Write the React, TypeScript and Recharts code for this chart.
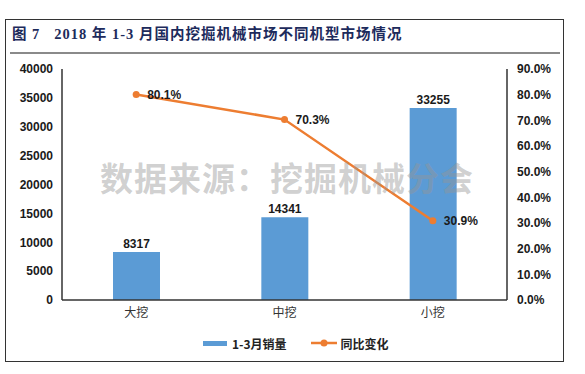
import {
  ComposedChart,
  Bar,
  Line,
  XAxis,
  YAxis,
  LabelList,
} from 'recharts'

// 1-3月 domestic excavator sales by machine type
const categories = ['大挖', '中挖', '小挖']
const sales = [8317, 14341, 33255]
const yoyChange = [80.1, 70.3, 30.9]

const leftTicks = [0, 5000, 10000, 15000, 20000, 25000, 30000, 35000, 40000]
const rightTicks = [0, 10, 20, 30, 40, 50, 60, 70, 80, 90]

const salesName = '1-3月销量'
const changeName = '同比变化'

const chartData = categories.map((name, i) => ({
  name,
  sales: sales[i],
  change: yoyChange[i],
}))

const BLUE = '#5b9bd5'
const ORANGE = '#ed7d31'
const tickFont = { fontSize: 12, fontWeight: 700, fill: '#1a1a1a', fontFamily: '"Liberation Sans", Arial, sans-serif' }

export default function App() {
  return (
    <div style={{ position: 'absolute', left: 0, top: 0, width: 585, height: 374, background: '#fff', overflow: 'hidden' }}>
      {/* frame */}
      <div
        style={{
          position: 'absolute',
          left: 5,
          top: 19,
          width: 557,
          height: 341,
          border: '1.5px solid #333',
        }}
      />
      <div
        style={{
          position: 'absolute',
          left: 12,
          top: 22,
          fontFamily: '"Liberation Serif", "Noto Sans CJK SC", serif',
          fontWeight: 700,
          fontSize: 14.5,
          color: '#1d2b5c',
          letterSpacing: 1,
          whiteSpace: 'pre',
        }}
      >
        {'图 7   2018 年 1-3 月国内挖掘机械市场不同机型市场情况'}
      </div>
      <div style={{ position: 'absolute', left: 10, top: 52, width: 550, height: 2, background: '#8a8a8a' }} />

      <div style={{ position: 'absolute', left: 0, top: 0 }}>
        <ComposedChart
          width={585}
          height={374}
          data={chartData}
          margin={{ top: 69, right: 18, left: 2, bottom: 44 }}
        >
          <XAxis
            dataKey="name"
            axisLine={{ stroke: '#333', strokeWidth: 1.5 }}
            tickLine={false}
            height={30}
            tick={{ fontSize: 12, fill: '#333', fontFamily: '"Noto Sans CJK SC", sans-serif' }}
          />
          <XAxis
            xAxisId="top"
            dataKey="name"
            orientation="top"
            height={0}
            tick={false}
            tickLine={false}
            axisLine={{ stroke: '#333', strokeWidth: 1.5 }}
          />
          <YAxis
            yAxisId="left"
            width={60}
            domain={[0, 40000]}
            ticks={leftTicks}
            interval={0}
            tickLine={false}
            tickMargin={3}
            axisLine={{ stroke: '#333', strokeWidth: 1.5 }}
            tick={tickFont}
          />
          <YAxis
            yAxisId="right"
            orientation="right"
            width={60}
            domain={[0, 90]}
            ticks={rightTicks}
            interval={0}
            tickLine={false}
            tickMargin={4}
            axisLine={{ stroke: '#333', strokeWidth: 1.5 }}
            tick={tickFont}
            tickFormatter={(v: number) => `${v.toFixed(1)}%`}
          />
          <Bar yAxisId="left" dataKey="sales" name={salesName} fill={BLUE} barSize={47} isAnimationActive={false}>
            <LabelList dataKey="sales" position="top" offset={4} style={tickFont} />
          </Bar>
          <Line
            yAxisId="right"
            type="linear"
            dataKey="change"
            name={changeName}
            stroke={ORANGE}
            strokeWidth={2.5}
            dot={{ r: 3.5, fill: ORANGE, stroke: ORANGE, strokeWidth: 0 }}
            activeDot={false}
            isAnimationActive={false}
          >
            <LabelList
              dataKey="change"
              position="right"
              offset={11}
              style={tickFont}
              formatter={(v: number) => `${v.toFixed(1)}%`}
            />
          </Line>
        </ComposedChart>
      </div>

      {/* watermark, drawn over the plot */}
      <div
        style={{
          position: 'absolute',
          left: 100,
          top: 166,
          height: 28,
          fontFamily: '"Liberation Sans", "Noto Sans CJK SC", sans-serif',
          fontWeight: 700,
          fontSize: 33,
          lineHeight: '28px',
          color: 'rgba(150, 150, 150, 0.45)',
          letterSpacing: 1,
          whiteSpace: 'nowrap',
          pointerEvents: 'none',
        }}
      >
        数据来源：挖掘机械分会
      </div>

      {/* legend */}
      <div
        style={{
          position: 'absolute',
          left: 203,
          top: 335,
          display: 'flex',
          alignItems: 'center',
          fontFamily: '"Noto Sans CJK SC", sans-serif',
          fontWeight: 700,
          fontSize: 12,
          color: '#222',
          height: 16,
        }}
      >
        <span style={{ display: 'inline-block', width: 24, height: 5, background: BLUE, marginRight: 5 }} />
        <span style={{ marginRight: 24 }}>{salesName}</span>
        <svg width={26} height={8} style={{ marginRight: 4 }}>
          <line x1={0} y1={4} x2={26} y2={4} stroke={ORANGE} strokeWidth={2.5} />
          <circle cx={13} cy={4} r={3.5} fill={ORANGE} />
        </svg>
        <span>{changeName}</span>
      </div>
    </div>
  )
}
